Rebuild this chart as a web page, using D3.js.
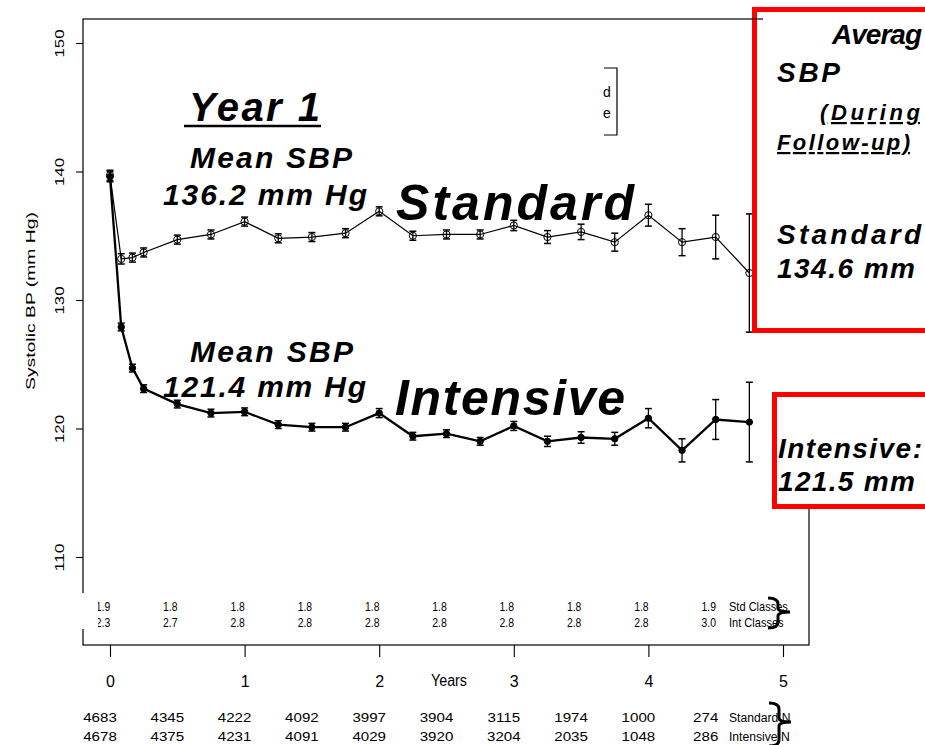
<!DOCTYPE html>
<html>
<head>
<meta charset="utf-8">
<script src="https://cdn.jsdelivr.net/npm/d3@7"></script>
<style>
  body { margin: 0; background: #fff; }
  svg { display: block; font-family: "Liberation Sans", Arial, sans-serif; }
  .big { font-weight: bold; font-style: italic; }
  .tbl { font-family: "Liberation Sans", Arial, sans-serif; }
</style>
</head>
<body>
<svg id="chart" width="925" height="745"></svg>
<script>
// visit times in months
var months = [0, 1, 2, 3, 6, 9, 12, 15, 18, 21, 24, 27, 30, 33, 36, 39, 42, 45, 48, 51, 54, 57];

var stdMean = [139.7, 133.2, 133.3, 133.7, 134.7, 135.1, 136.1, 134.8, 134.9, 135.2, 136.9,
               135.0, 135.1, 135.1, 135.8, 134.9, 135.3, 134.5, 136.6, 134.5, 134.9, 132.1];
var stdErr  = [0.4, 0.4, 0.35, 0.35, 0.35, 0.35, 0.35, 0.35, 0.35, 0.35, 0.35,
               0.35, 0.35, 0.35, 0.4, 0.5, 0.6, 0.7, 0.85, 1.05, 1.7, 4.6];

var intMean = [139.6, 127.9, 124.7, 123.1, 121.9, 121.2, 121.3, 120.3, 120.1, 120.1, 121.2,
               119.4, 119.6, 119.0, 120.2, 119.0, 119.3, 119.2, 120.8, 118.3, 120.7, 120.5];
var intErr  = [0.4, 0.3, 0.3, 0.3, 0.3, 0.3, 0.3, 0.3, 0.3, 0.3, 0.35,
               0.3, 0.3, 0.3, 0.35, 0.4, 0.45, 0.5, 0.75, 0.9, 1.55, 3.1];

// tables under the plot (every half year)
var tableYears = [0, 0.5, 1, 1.5, 2, 2.5, 3, 3.5, 4, 4.5];
var stdClasses = ["1.9", "1.8", "1.8", "1.8", "1.8", "1.8", "1.8", "1.8", "1.8", "1.9"];
var intClasses = ["2.3", "2.7", "2.8", "2.8", "2.8", "2.8", "2.8", "2.8", "2.8", "3.0"];
var stdN = [4683, 4345, 4222, 4092, 3997, 3904, 3115, 1974, 1000, 274];
var intN = [4678, 4375, 4231, 4091, 4029, 3920, 3204, 2035, 1048, 286];

var yTicks = [110, 120, 130, 140, 150];
var xTicks = [0, 1, 2, 3, 4, 5];

var svg = d3.select("#chart");

var x = d3.scaleLinear().domain([0, 5]).range([110, 783]),
    y = d3.scaleLinear().domain([110, 150]).range([557, 43]);

var box = {left: 83, top: 19, right: 809, bottom: 645};

var stdData = months.map(function(m, i) { return {t: m / 12, v: stdMean[i], e: stdErr[i]}; });
var intData = months.map(function(m, i) { return {t: m / 12, v: intMean[i], e: intErr[i]}; });

// plot frame
svg.append("rect")
    .attr("x", box.left).attr("y", box.top)
    .attr("width", box.right - box.left).attr("height", box.bottom - box.top)
    .attr("fill", "none").attr("stroke", "#000").attr("stroke-width", 1.2);

// y axis (R style, rotated and stretched labels)
var yAxis = svg.append("g").attr("transform", "translate(" + box.left + ",0)")
    .call(d3.axisLeft(y).tickValues(yTicks).tickSize(7).tickPadding(0).tickFormat(d3.format("d")));
yAxis.select(".domain").remove();
yAxis.selectAll("line").attr("stroke-width", 1.1);
yAxis.selectAll("text").remove();
yAxis.selectAll(".tick").append("text")
    .attr("transform", "translate(-19,0) rotate(-90)")
    .attr("text-anchor", "middle")
    .attr("textLength", 28).attr("lengthAdjust", "spacingAndGlyphs")
    .attr("fill", "#000")
    .style("font-size", "12.5px")
    .text(function(d) { return d; });

svg.append("text")
    .attr("transform", "translate(35,390) rotate(-90)")
    .attr("textLength", 178).attr("lengthAdjust", "spacingAndGlyphs")
    .style("font-size", "12.5px")
    .text("Systolic BP (mm Hg)");

// x axis below the frame
var xAxis = svg.append("g").attr("transform", "translate(0," + box.bottom + ")")
    .call(d3.axisBottom(x).tickValues(xTicks).tickSize(12).tickPadding(0).tickFormat(d3.format("d")));
xAxis.select(".domain").remove();
xAxis.selectAll("line").attr("stroke-width", 1.1);
xAxis.selectAll("text")
    .attr("y", 42).attr("dy", 0)
    .attr("fill", "#000")
    .style("font-size", "16px");

svg.append("text").attr("x", 431).attr("y", 686)
    .attr("textLength", 36).attr("lengthAdjust", "spacingAndGlyphs")
    .style("font-size", "16px").text("Years");

// series
var line = d3.line().x(function(d) { return x(d.t); }).y(function(d) { return y(d.v); });

function drawSeries(data, lw, filled) {
    var g = svg.append("g");
    g.append("path").datum(data)
        .attr("d", line).attr("fill", "none")
        .attr("stroke", "#000").attr("stroke-width", lw);
    var bars = g.selectAll(".err").data(data).enter().append("g");
    bars.append("line")
        .attr("x1", function(d) { return x(d.t); }).attr("x2", function(d) { return x(d.t); })
        .attr("y1", function(d) { return y(d.v + d.e); }).attr("y2", function(d) { return y(d.v - d.e); })
        .attr("stroke", "#000").attr("stroke-width", 1.3);
    [1, -1].forEach(function(s) {
        bars.append("line")
            .attr("x1", function(d) { return x(d.t) - 3.5; }).attr("x2", function(d) { return x(d.t) + 3.5; })
            .attr("y1", function(d) { return y(d.v + s * d.e); }).attr("y2", function(d) { return y(d.v + s * d.e); })
            .attr("stroke", "#000").attr("stroke-width", 1.5);
    });
    g.selectAll(".pt").data(data).enter().append("circle")
        .attr("cx", function(d) { return x(d.t); })
        .attr("cy", function(d) { return y(d.v); })
        .attr("r", filled ? 3.2 : 3.6)
        .attr("fill", filled ? "#000" : "none")
        .attr("stroke", "#000").attr("stroke-width", 1);
}

drawSeries(stdData, 1.2, false);
drawSeries(intData, 2.3, true);

// clipped legend remnant
svg.append("path").attr("d", "M604,68H617V135H604")
    .attr("fill", "none").attr("stroke", "#000").attr("stroke-width", 1.2);
svg.append("text").attr("x", 603).attr("y", 97).style("font-size", "14px").text("d");
svg.append("text").attr("x", 603).attr("y", 118).style("font-size", "14px").text("e");

// table text helper: condensed or stretched horizontally
function tblText(g, tx, ty, sx, anchor, str) {
    return g.append("text")
        .attr("transform", "translate(" + tx + "," + ty + ") scale(" + sx + ",1)")
        .attr("text-anchor", anchor)
        .text(str);
}

// class table pasted over the frame
svg.append("rect").attr("x", 76).attr("y", 593).attr("width", 22).attr("height", 36).attr("fill", "#fff");
svg.append("clipPath").attr("id", "tblclip")
    .append("rect").attr("x", 98).attr("y", 590).attr("width", 720).attr("height", 45);
var ct = svg.append("g").attr("class", "tbl").attr("clip-path", "url(#tblclip)")
    .style("font-size", "13px");
tableYears.forEach(function(t, i) {
    tblText(ct, x(t) - 7, 611, 0.8, "middle", stdClasses[i]);
    tblText(ct, x(t) - 7, 627, 0.8, "middle", intClasses[i]);
});
tblText(ct, 729, 611, 0.85, "start", "Std Classes");
tblText(ct, 729, 627, 0.85, "start", "Int Classes");

// N table
var nt = svg.append("g").attr("class", "tbl").style("font-size", "13.5px");
tableYears.forEach(function(t, i) {
    tblText(nt, x(t) - 10, 722, 1.12, "middle", stdN[i]);
    tblText(nt, x(t) - 10, 741, 1.12, "middle", intN[i]);
});
tblText(nt, 729, 722, 0.9, "start", "Standard N");
tblText(nt, 729, 741, 0.9, "start", "Intensive N");

// braces
function brace(x0, top, mid, bot) {
    return "M" + x0 + "," + top + "Q" + (x0 + 10) + "," + top + " " + (x0 + 10) + "," + (top + 6) +
        "L" + (x0 + 10) + "," + (mid - 4) + "Q" + (x0 + 10) + "," + mid + " " + (x0 + 22) + "," + mid +
        "Q" + (x0 + 10) + "," + mid + " " + (x0 + 10) + "," + (mid + 4) +
        "L" + (x0 + 10) + "," + (bot - 6) + "Q" + (x0 + 10) + "," + bot + " " + x0 + "," + bot;
}
svg.append("path").attr("d", brace(768, 598, 612, 628))
    .attr("fill", "none").attr("stroke", "#000").attr("stroke-width", 3);
svg.append("path").attr("d", brace(769, 703, 722, 746))
    .attr("fill", "none").attr("stroke", "#000").attr("stroke-width", 3);

// annotations in the plot
function bigText(tx, ty, size, len, str) {
    return svg.append("text").attr("class", "big")
        .attr("x", tx).attr("y", ty)
        .attr("textLength", len).attr("lengthAdjust", "spacing")
        .style("font-size", size + "px").text(str);
}
bigText(189, 121, 40, 131, "Year 1");
svg.append("line").attr("x1", 184).attr("x2", 321).attr("y1", 126).attr("y2", 126)
    .attr("stroke", "#000").attr("stroke-width", 2.5);
bigText(190, 168, 30, 162, "Mean SBP");
bigText(163, 205, 30, 204, "136.2 mm Hg");
bigText(396, 220, 50, 238, "Standard");
bigText(190, 362, 30, 163, "Mean SBP");
bigText(163, 397, 30, 203, "121.4 mm Hg");
bigText(395, 415, 50, 230, "Intensive");

// hide right frame between the red boxes
svg.append("rect").attr("x", 790).attr("y", 330).attr("width", 40).attr("height", 66).attr("fill", "#fff");

// red summary boxes (run off the right edge of the slide)
svg.append("rect").attr("x", 754.5).attr("y", 9.5).attr("width", 220).attr("height", 321)
    .attr("fill", "#fff").attr("stroke", "#ff0000").attr("stroke-width", 5);
svg.append("rect").attr("x", 774.5).attr("y", 394.5).attr("width", 200).attr("height", 112)
    .attr("fill", "#fff").attr("stroke", "#ff0000").attr("stroke-width", 5);
svg.append("line").attr("x1", 752).attr("x2", 763).attr("y1", 19).attr("y2", 19)
    .attr("stroke", "#000").attr("stroke-width", 1.2);

// only the parts visible inside the slide
function boxText(tx, ty, size, len, str) {
    return svg.append("text").attr("class", "big")
        .attr("x", tx).attr("y", ty)
        .attr("textLength", len).attr("lengthAdjust", "spacing")
        .style("font-size", size + "px")
        .text(str);
}
boxText(832, 44, 28, 90, "Averag");
boxText(777, 82, 28, 63, "SBP");
boxText(820, 120, 22, 100, "(During").style("text-decoration", "underline");
boxText(777, 150, 22, 133, "Follow-up)").style("text-decoration", "underline");
boxText(777, 244, 28, 144, "Standard");
boxText(777, 278, 28, 138, "134.6 mm");
boxText(778, 458, 28, 144, "Intensive:");
boxText(778, 491, 28, 137, "121.5 mm");
</script>
</body>
</html>
